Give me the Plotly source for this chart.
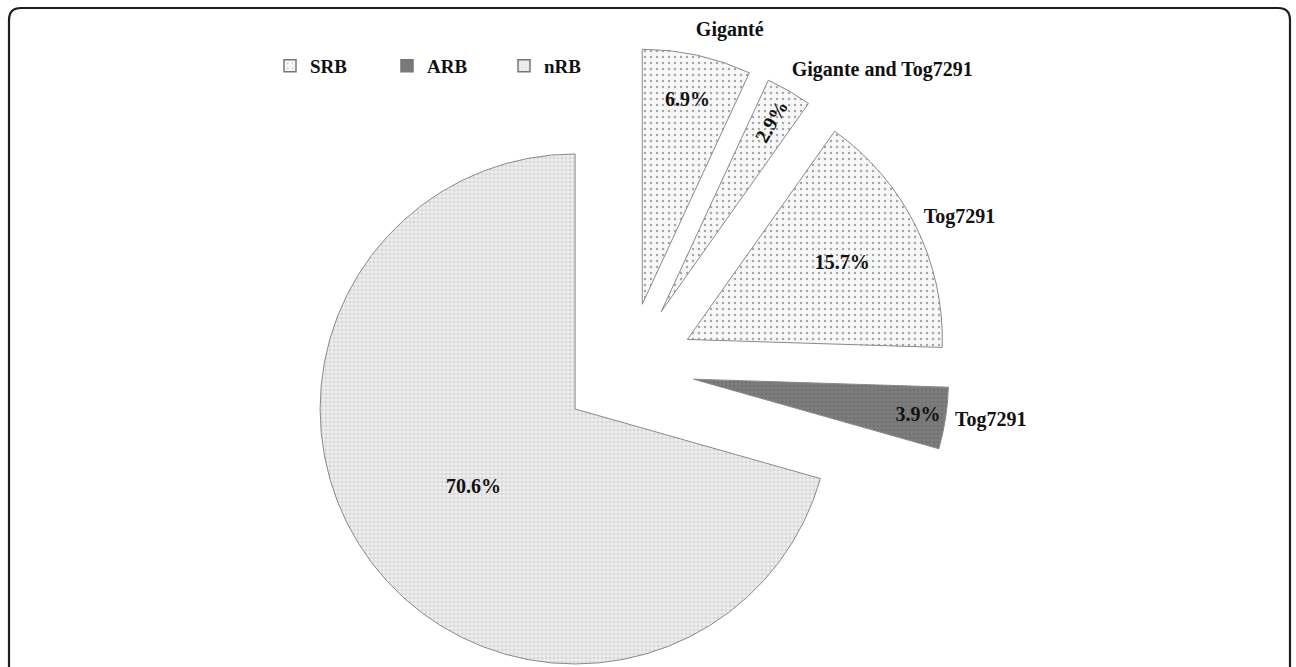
import plotly.graph_objects as go

# Shares of each resistance group (percent of lines)
slice_names = ["Giganté", "Gigante and Tog7291", "Tog7291", "Tog7291", ""]
slice_groups = ["SRB", "SRB", "SRB", "ARB", "nRB"]
shares = [6.9, 2.9, 15.7, 3.9, 70.6]

legend_groups = ["SRB", "ARB", "nRB"]

# Fill style for each group
group_style = {
    "SRB": dict(bg="#f8f8f8", fg="#a8a8a8", shape=".", size=6, solidity=0.14),
    "ARB": dict(bg="#7c7c7c", fg="#6c6c6c", shape=".", size=4, solidity=0.2),
    "nRB": dict(bg="#f1f1f1", fg="#b8b8b8", shape="+", size=4, solidity=0.22),
}

W, H = 1296, 720
FONT = "Liberation Serif"
PULL = 0.26

# wedge pie: centre (px) and radius; the name ring uses its own circle
PIE = dict(cx=628, cy=369, r=255)
NAMES = dict(cx=618, cy=368, r=266)


def pie_domain(g):
    half = g["r"] * (1 + PULL)
    return dict(x=[(g["cx"] - half) / W, (g["cx"] + half) / W],
                y=[max(0, 1 - (g["cy"] + half) / H),
                   min(1, 1 - (g["cy"] - half) / H)])


slice_ids = [f"{g}: {n}" for g, n in zip(slice_groups, slice_names)]
styles = [group_style[g] for g in slice_groups]

fig = go.Figure()

# the wedges with their percentages
fig.add_trace(go.Pie(
    labels=slice_ids,
    values=shares,
    sort=False,
    direction="clockwise",
    rotation=0,
    pull=PULL,
    domain=pie_domain(PIE),
    automargin=False,
    marker=dict(
        colors=[s["bg"] for s in styles],
        line=dict(color="#8a8a8a", width=1),
        pattern=dict(
            shape=[s["shape"] for s in styles],
            bgcolor=[s["bg"] for s in styles],
            fgcolor=[s["fg"] for s in styles],
            size=[s["size"] for s in styles],
            solidity=[s["solidity"] for s in styles],
            fillmode="replace",
        ),
    ),
    text=[f"{v:.1f}%" for v in shares],
    textinfo="text",
    textposition="inside",
    insidetextorientation="auto",
    textfont=dict(family=FONT, size=20, color="#111111", weight="bold"),
    showlegend=False,
    hoverinfo="label+value",
))

# slice names placed outside the wedges
fig.add_trace(go.Pie(
    labels=slice_ids,
    values=shares,
    sort=False,
    direction="clockwise",
    rotation=0,
    pull=PULL,
    domain=pie_domain(NAMES),
    automargin=False,
    marker=dict(colors=["rgba(0,0,0,0)"] * len(shares), line=dict(width=0)),
    text=slice_names,
    textinfo="text",
    textposition=["outside" if n else "none" for n in slice_names],
    textfont=dict(family=FONT, size=20, color="#111111", weight="bold"),
    showlegend=False,
    hoverinfo="skip",
))

# legend keys for the three groups
for g in legend_groups:
    s = group_style[g]
    fig.add_trace(go.Bar(
        x=[None], y=[None], name=g,
        marker=dict(
            color=s["bg"],
            line=dict(color="#777777", width=1.5),
            pattern=dict(shape=s["shape"], bgcolor=s["bg"], fgcolor=s["fg"],
                         size=s["size"], solidity=s["solidity"]),
        ),
    ))

# rounded frame around the figure
x0, x1, y0, y1, rc = 9, 1290, 8, H + 20, 12


def px(x):
    return x / W


def py(y):
    return 1 - y / H


frame = (f"M {px(x0)},{py(y1)} L {px(x0)},{py(y0 + rc)} "
         f"Q {px(x0)},{py(y0)} {px(x0 + rc)},{py(y0)} "
         f"L {px(x1 - rc)},{py(y0)} Q {px(x1)},{py(y0)} {px(x1)},{py(y0 + rc)} "
         f"L {px(x1)},{py(y1)}")

fig.update_layout(
    width=W, height=H,
    margin=dict(l=0, r=0, t=0, b=0, autoexpand=False),
    paper_bgcolor="white",
    plot_bgcolor="white",
    xaxis=dict(visible=False),
    yaxis=dict(visible=False),
    shapes=[dict(type="path", xref="paper", yref="paper", path=frame,
                 line=dict(color="#1e1e1e", width=2.2), layer="above")],
    legend=dict(
        orientation="h",
        x=270 / W, xanchor="left",
        y=1 - 66 / H, yanchor="middle",
        entrywidth=72, entrywidthmode="pixels",
        font=dict(family=FONT, size=19, color="#111111", weight="bold"),
        bgcolor="rgba(0,0,0,0)",
    ),
)

fig.write_html(
    "out.html",
    post_script="document.documentElement.style.overflow='hidden';"
                "document.body.style.overflow='hidden';",
)
